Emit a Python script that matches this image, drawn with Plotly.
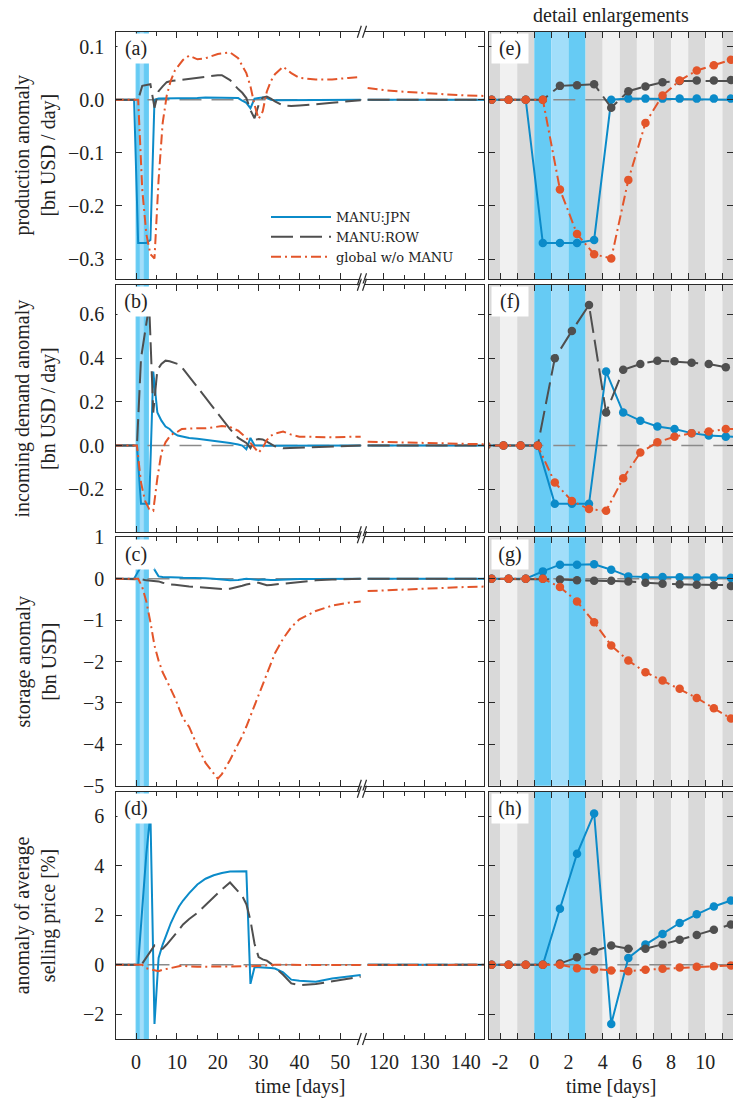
import plotly.graph_objects as go

# ---------------------------------------------------------------- data
SERIES = ["MANU:JPN", "MANU:ROW", "global w/o MANU"]

# time grid [days] for production / storage / price (values at mid-day)
T_MID = [-5.5, -4.5, -3.5, -2.5, -1.5, -0.5, 0.5, 1.5, 2.5, 3.5, 4.5, 5.5, 6.5, 7.5, 8.5, 9.5, 10.5, 11.5,
         13, 15, 17, 19, 20, 21, 23, 25, 26, 27, 28, 29, 30, 31, 32, 33, 34, 36, 38, 40, 44, 48, 52, 55,
         116, 120, 125, 130, 135, 140, 145]
# time grid [days] for incoming demand
T_DEM = [-5.8, -4.8, -3.8, -2.8, -1.8, -0.8, 0.2, 1.2, 2.2, 3.2, 4.2, 5.2, 6.2, 7.2, 8.2, 9.2, 10.2, 11.2,
         13, 15, 17, 19, 20, 21, 23, 25, 26, 27, 28, 29, 30, 31, 32, 33, 34, 36, 38, 40, 44, 48, 52, 55,
         116, 120, 125, 130, 135, 140, 145]

# (a)/(e) production anomaly [bn USD / day]
PROD_JPN = [0, 0, 0, 0, 0, 0, -0.270, -0.270, -0.270, -0.264, 0.000, 0.002, 0.002, 0.002, 0.002, 0.002, 0.002, 0.002,
            0.003, 0.003, 0.004, 0.004, 0.004, 0.004, 0.004, 0.003, -0.002, -0.006, -0.016, 0.002, 0.003, 0.004,
            0.003, 0.000, -0.001, -0.001, -0.001, -0.001, 0.000, 0.000, 0.000, 0.000,
            0, 0, 0, 0, 0, 0, 0]
PROD_ROW = [0, 0, 0, 0, 0, 0, 0.000, 0.026, 0.027, 0.029, -0.015, 0.016, 0.025, 0.033, 0.035, 0.036, 0.036, 0.037,
            0.039, 0.041, 0.043, 0.045, 0.046, 0.046, 0.037, 0.020, 0.013, 0.003, -0.020, -0.035, -0.010, 0.004,
            0.006, 0.002, -0.003, -0.011, -0.012, -0.011, -0.009, -0.006, -0.003, -0.001,
            0, 0, 0, 0, 0, 0, 0]
PROD_GLB = [0, 0, 0, 0, 0, 0, 0.000, -0.169, -0.253, -0.291, -0.299, -0.151, -0.044, 0.008, 0.036, 0.055, 0.065, 0.075,
            0.083, 0.076, 0.078, 0.084, 0.086, 0.087, 0.089, 0.078, 0.065, 0.050, 0.025, -0.010, -0.036, -0.022,
            0.015, 0.035, 0.048, 0.062, 0.050, 0.041, 0.038, 0.038, 0.041, 0.043,
            0.022, 0.018, 0.015, 0.012, 0.010, 0.008, 0.007]

# (b)/(f) incoming demand anomaly [bn USD / day]
DEM_JPN = [0, 0, 0, 0, 0, 0, 0.000, -0.266, -0.266, -0.266, 0.338, 0.151, 0.114, 0.087, 0.076, 0.057, 0.046, 0.041,
           0.035, 0.031, 0.027, 0.022, 0.020, 0.017, 0.012, 0.005, 0.000, -0.017, 0.035, 0.002, 0.000, 0.000,
           -0.001, -0.001, -0.001, -0.001, -0.001, 0.000, 0.000, 0.000, 0.000, 0.000,
           0, 0, 0, 0, 0, 0, 0]
DEM_ROW = [0, 0, 0, 0, 0, 0, 0.000, 0.399, 0.524, 0.642, 0.151, 0.346, 0.373, 0.388, 0.385, 0.379, 0.373, 0.358,
           0.315, 0.265, 0.218, 0.170, 0.146, 0.122, 0.075, 0.035, 0.022, 0.012, -0.012, 0.026, 0.030, 0.028,
           0.018, 0.006, -0.003, -0.012, -0.011, -0.010, -0.008, -0.005, -0.002, 0.000,
           0, 0, 0, 0, 0, 0, 0]
DEM_GLB = [0, 0, 0, 0, 0, 0, 0.000, -0.169, -0.253, -0.290, -0.298, -0.149, -0.032, 0.015, 0.041, 0.057, 0.064, 0.076,
           0.079, 0.079, 0.079, 0.083, 0.086, 0.089, 0.085, 0.068, 0.052, 0.035, 0.012, -0.010, -0.032, -0.010,
           0.025, 0.045, 0.055, 0.064, 0.050, 0.041, 0.039, 0.038, 0.040, 0.041,
           0.018, 0.016, 0.014, 0.011, 0.009, 0.007, 0.006]

# (c)/(g) storage anomaly [bn USD]
STOR_JPN = [0, 0, 0, 0, 0, 0, 0.177, 0.339, 0.339, 0.347, 0.218, 0.056, 0.040, 0.040, 0.038, 0.030, 0.028, 0.020,
            0.020, 0.015, 0.010, 0.000, -0.010, -0.020, -0.040, -0.030, -0.015, 0.000, -0.010, -0.020, -0.030, -0.020,
            -0.030, -0.030, -0.030, -0.020, -0.015, -0.010, -0.005, 0.000, 0.000, 0.000,
            0, 0, 0, 0, 0, 0, 0]
STOR_ROW = [0, 0, 0, 0, 0, 0, 0.000, -0.017, -0.040, -0.050, -0.050, -0.065, -0.097, -0.120, -0.137, -0.145, -0.160, -0.178,
            -0.190, -0.200, -0.215, -0.235, -0.245, -0.250, -0.240, -0.200, -0.170, -0.140, -0.120, -0.100, -0.100, -0.130,
            -0.160, -0.150, -0.140, -0.120, -0.090, -0.070, -0.040, -0.020, -0.010, 0.000,
            0, 0, 0, 0, 0, 0, 0]
STOR_GLB = [0, 0, 0, 0, 0, 0, 0.000, -0.202, -0.549, -1.050, -1.615, -1.978, -2.260, -2.460, -2.660, -2.880, -3.130, -3.375,
            -3.58, -4.04, -4.45, -4.72, -4.83, -4.72, -4.38, -3.99, -3.80, -3.57, -3.31, -3.05, -2.79, -2.54,
            -2.28, -2.04, -1.80, -1.45, -1.17, -0.98, -0.78, -0.65, -0.58, -0.55,
            -0.30, -0.28, -0.26, -0.24, -0.22, -0.20, -0.19]

# (d)/(h) anomaly of average selling price [%]
PRICE_JPN = [0, 0, 0, 0, 0, 0, 0.00, 2.27, 4.49, 6.12, -2.39, 0.28, 0.82, 1.25, 1.69, 2.04, 2.36, 2.60,
             2.90, 3.25, 3.48, 3.62, 3.67, 3.71, 3.77, 3.79, 3.79, 3.78, -0.77, -0.10, -0.10, -0.10,
             -0.12, -0.13, -0.15, -0.30, -0.60, -0.64, -0.68, -0.55, -0.47, -0.41,
             0, 0, 0, 0, 0, 0, 0]
PRICE_ROW = [0, 0, 0, 0, 0, 0, 0.00, 0.05, 0.31, 0.55, 0.78, 0.65, 0.65, 0.82, 1.01, 1.21, 1.42, 1.63,
             1.85, 2.10, 2.42, 2.73, 2.90, 3.05, 3.33, 2.98, 2.78, 2.45, 1.80, 0.85, 0.31, 0.22,
             0.17, 0.05, -0.10, -0.40, -0.75, -0.82, -0.78, -0.68, -0.58, -0.48,
             0, 0, 0, 0, 0, 0, 0]
PRICE_GLB = [0, 0, 0, 0, 0, 0, 0.00, 0.00, -0.14, -0.19, -0.23, -0.26, -0.20, -0.16, -0.11, -0.08, -0.06, -0.03,
             -0.07, -0.08, -0.08, -0.08, -0.08, -0.08, -0.08, -0.08, -0.08, -0.07, -0.06, -0.05, -0.05, -0.03,
             -0.01, 0.00, 0.00, 0.00, -0.01, -0.01, -0.01, -0.01, -0.01, -0.01,
             -0.01, -0.01, -0.01, -0.01, 0.00, 0.00, 0.00]

PANEL_LABELS_LEFT = ["(a)", "(b)", "(c)", "(d)"]
PANEL_LABELS_RIGHT = ["(e)", "(f)", "(g)", "(h)"]
Y_TITLES = ["production anomaly<br>[bn USD / day]",
            "incoming demand anomaly<br>[bn USD / day]",
            "storage anomaly<br>[bn USD]",
            "anomaly of average<br>selling price [%]"]
Y_TICKS = [[-0.3, -0.2, -0.1, 0.0, 0.1],
           [-0.2, 0.0, 0.2, 0.4, 0.6],
           [-5, -4, -3, -2, -1, 0, 1],
           [-2, 0, 2, 4, 6]]
Y_TICKFMT = [".1f", ".1f", "d", "d"]
Y_RANGES = [[-0.338, 0.128], [-0.396, 0.735], [-5.0001, 1.0001], [-3.0, 7.0]]

X_LEFT_TICKS = [0, 10, 20, 30, 40, 50, 120, 130, 140]
X_LEFT_MINOR = [5, 15, 25, 35, 45, 125, 135]
X_RIGHT_TICKS = [-2, 0, 2, 4, 6, 8, 10]
X_RIGHT_TICKTEXT = ["-2", "0", "2", "4", "6", "8", "10"]

EVENT_START, EVENT_END = 0, 3          # disaster period [days]
BREAK_LO, BREAK_HI = 55.3, 114.6       # broken time axis
LEFT_RANGE = [-5.05, 144.5]
RIGHT_RANGE = [-2.63, 11.62]

PANELS = [
    (T_MID, [PROD_JPN, PROD_ROW, PROD_GLB]),
    (T_DEM, [DEM_JPN, DEM_ROW, DEM_GLB]),
    (T_MID, [STOR_JPN, STOR_ROW, STOR_GLB]),
    (T_MID, [PRICE_JPN, PRICE_ROW, PRICE_GLB]),
]

# ---------------------------------------------------------------- style
W, H = 733, 1104
FONT = "Liberation Serif"
FS = 20
COLORS = ["#0b8bc9", "#4f4f4f", "#e3552a"]
DASHES = ["solid", "22px,7px", "10px,4px,2px,4px"]
AXCOL = "#2a2a2a"
BLUE = "#66cbf4"
BLUE_LIGHT = "#a2defa"
GRAY_DARK = "#d9d9d9"
GRAY_LIGHT = "#f1f1f1"

LEFT_DOM = [115.5 / W, 484 / W]
RIGHT_DOM = [489.3 / W, 1.0]
ROW_PX = [(31.7, 279.2), (284.7, 532.3), (537.3, 785.7), (791.7, 1039.0)]

GAP = BREAK_HI - BREAK_LO


def compress(t):
    return t if t <= BREAK_LO else t - GAP


def left_xy(ts, vs):
    xs, ys, prev = [], [], None
    for t, v in zip(ts, vs):
        if prev is not None and prev <= BREAK_LO < t:
            xs.append(None)
            ys.append(None)
        xs.append(compress(t))
        ys.append(v)
        prev = t
    return xs, ys


def sfx(i):
    return "" if i == 1 else str(i)


fig = go.Figure()
shapes, annotations = [], []
layout = {}

for r, (ts, series) in enumerate(PANELS):
    il, ir = 2 * r + 1, 2 * r + 2
    y0p, y1p = ROW_PX[r]
    ydom = [1 - y1p / H, 1 - y0p / H]
    bottom = (r == 3)

    # ---- traces
    for k, vals in enumerate(series):
        xs, ys = left_xy(ts, vals)
        fig.add_trace(go.Scatter(
            x=xs, y=ys, mode="lines", name=SERIES[k],
            line=dict(color=COLORS[k], width=2, dash=DASHES[k]),
            showlegend=(r == 0), connectgaps=False,
            xaxis="x" + sfx(il), yaxis="y" + sfx(il), hoverinfo="skip"))
    for k, vals in enumerate(series):
        fig.add_trace(go.Scatter(
            x=ts, y=vals, mode="lines+markers", name=SERIES[k],
            line=dict(color=COLORS[k], width=2, dash=DASHES[k]),
            marker=dict(color=COLORS[k], size=8.5),
            showlegend=False,
            xaxis="x" + sfx(ir), yaxis="y" + sfx(ir), hoverinfo="skip"))

    common = dict(showline=True, linecolor=AXCOL, linewidth=1.3, mirror="ticks",
                  ticks="inside", ticklen=6, tickwidth=1.1, tickcolor=AXCOL,
                  showgrid=False, zeroline=False, fixedrange=True, automargin=False)

    layout["xaxis" + sfx(il)] = dict(
        common, domain=LEFT_DOM, anchor="y" + sfx(il),
        range=[compress(LEFT_RANGE[0]), compress(LEFT_RANGE[1])],
        tickmode="array", tickvals=[compress(v) for v in X_LEFT_TICKS],
        ticktext=[str(v) for v in X_LEFT_TICKS], showticklabels=bottom,
        ticklabelstandoff=5,
        minor=dict(tickmode="array", tickvals=[compress(v) for v in X_LEFT_MINOR],
                   ticks="inside", ticklen=4, tickwidth=1.1, tickcolor=AXCOL))
    layout["yaxis" + sfx(il)] = dict(
        common, domain=ydom, anchor="x" + sfx(il), range=Y_RANGES[r],
        tickmode="array", tickvals=Y_TICKS[r], tickformat=Y_TICKFMT[r],
        ticklabelstandoff=6)
    layout["xaxis" + sfx(ir)] = dict(
        common, domain=RIGHT_DOM, anchor="y" + sfx(ir), range=RIGHT_RANGE,
        tickmode="array", tickvals=X_RIGHT_TICKS, ticktext=X_RIGHT_TICKTEXT,
        showticklabels=bottom, ticklabelstandoff=5,
        minor=dict(dtick=1, tick0=0, ticks="inside", ticklen=6, tickwidth=1.1, tickcolor=AXCOL))
    layout["yaxis" + sfx(ir)] = dict(
        common, domain=ydom, anchor="x" + sfx(ir), range=Y_RANGES[r],
        tickmode="array", tickvals=Y_TICKS[r], showticklabels=False)

    # ---- background stripes (right) and event band (left)
    for d in range(-3, 12):
        if EVENT_START <= d < EVENT_END:
            col = BLUE_LIGHT if d == EVENT_START + 1 else BLUE
        else:
            col = GRAY_DARK if d % 2 else GRAY_LIGHT
        shapes.append(dict(type="rect", xref="x" + sfx(ir), yref="y" + sfx(ir) + " domain",
                           x0=d, x1=d + 1, y0=0, y1=1, fillcolor=col, line_width=0, layer="below"))
    for d in range(EVENT_START, EVENT_END):
        col = BLUE_LIGHT if d == EVENT_START + 1 else BLUE
        shapes.append(dict(type="rect", xref="x" + sfx(il), yref="y" + sfx(il) + " domain",
                           x0=compress(d), x1=compress(d + 1), y0=0, y1=1,
                           fillcolor=col, line=dict(color=col, width=1), layer="below"))

    # ---- zero lines
    for i in (il, ir):
        shapes.append(dict(type="line", xref="x" + sfx(i) + " domain", yref="y" + sfx(i),
                           x0=0, x1=1, y0=0, y1=0,
                           line=dict(color="#8a8a8a", width=1.5, dash="22px,10px"), layer="below"))

    # ---- axis break marks
    for yy in (0, 1):
        shapes.append(dict(type="rect", xref="x" + sfx(il), yref="y" + sfx(il) + " domain",
                           xsizemode="pixel", xanchor=BREAK_LO, x0=-2.2, x1=2.2,
                           ysizemode="pixel", yanchor=yy, y0=-1.2, y1=1.2,
                           fillcolor="white", line_width=0, layer="above"))
        for off in (-2.6, 2.6):
            shapes.append(dict(type="line", xref="x" + sfx(il), yref="y" + sfx(il) + " domain",
                               xsizemode="pixel", xanchor=BREAK_LO, x0=off - 2, x1=off + 2,
                               ysizemode="pixel", yanchor=yy, y0=-6, y1=6,
                               line=dict(color=AXCOL, width=1.2), layer="above"))

    # ---- panel labels
    for i, lab in ((il, PANEL_LABELS_LEFT[r]), (ir, PANEL_LABELS_RIGHT[r])):
        annotations.append(dict(text=lab, xref="x" + sfx(i) + " domain", yref="y" + sfx(i) + " domain",
                                x=0, y=1, xanchor="left", yanchor="top", xshift=1.2, yshift=-1.2,
                                showarrow=False, bgcolor="white", width=34, height=27,
                                align="center", valign="middle", font=dict(size=FS)))

    # ---- y titles
    annotations.append(dict(text=Y_TITLES[r], xref="paper", yref="paper",
                            x=35 / W, y=(ydom[0] + ydom[1]) / 2, xanchor="center", yanchor="middle",
                            textangle=-90, showarrow=False, font=dict(size=FS)))

annotations.append(dict(text="detail enlargements", xref="paper", yref="paper",
                        x=611 / W, y=1 - 15 / H, xanchor="center", yanchor="middle",
                        showarrow=False, font=dict(size=FS)))
for xc in (300 / W, 611 / W):
    annotations.append(dict(text="time [days]", xref="paper", yref="paper",
                            x=xc, y=1 - 1086.7 / H, xanchor="center", yanchor="middle",
                            showarrow=False, font=dict(size=FS)))

fig.update_layout(
    width=W, height=H, autosize=False,
    margin=dict(l=0, r=0, t=0, b=0, pad=0),
    paper_bgcolor="white", plot_bgcolor="white",
    font=dict(family=FONT, size=FS, color="#222222"),
    shapes=shapes, annotations=annotations,
    legend=dict(x=266 / W, y=1 - 202 / H, xanchor="left", yanchor="top",
                bgcolor="rgba(0,0,0,0)", borderwidth=0, itemwidth=60,
                font=dict(family="DejaVu Serif", size=13), tracegroupgap=0),
    **layout,
)

fig.write_html("out.html",
               config={"displayModeBar": False},
               post_script="document.documentElement.style.margin='0px';"
                           "document.body.style.margin='0px';"
                           "document.body.style.overflow='hidden';")
